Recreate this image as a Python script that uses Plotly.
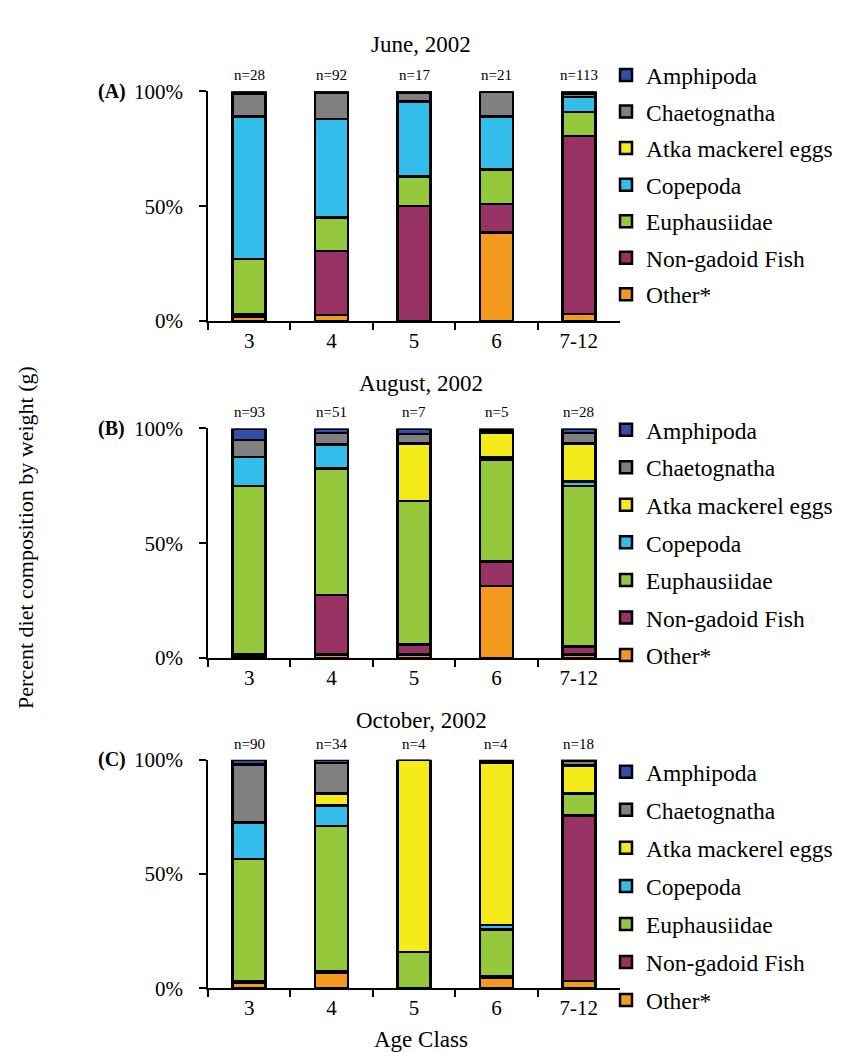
import plotly.graph_objects as go

ages = ["3", "4", "5", "6", "7-12"]
prey = ["Other*", "Non-gadoid Fish", "Euphausiidae", "Copepoda",
        "Atka mackerel eggs", "Chaetognatha", "Amphipoda"]
colors = ["#F39A1E", "#983262", "#96C83C", "#33BDEB", "#F5EB1A", "#808080", "#2F4FA8"]

months = ["June, 2002", "August, 2002", "October, 2002"]
panel_tags = ["(A)", "(B)", "(C)"]

# June (A)
june_other = [2, 2.5, 0, 38.5, 3]
june_fish = [1, 28, 50, 12.5, 77.5]
june_euph = [24, 14.5, 13, 15, 10.5]
june_cope = [62, 43, 32.5, 23, 6.5]
june_atka = [0, 0, 0, 0, 0]
june_chaet = [10, 11.5, 4, 11, 1.5]
june_amph = [1, 0.5, 0.5, 0, 1]
june_n = [28, 92, 17, 21, 113]

# August (B)
aug_other = [0.5, 1.5, 1.5, 31.5, 1.5]
aug_fish = [1, 26, 4.5, 10.5, 3.5]
aug_euph = [73.5, 55, 62.5, 44.5, 70]
aug_cope = [12.5, 10.5, 0, 1, 2]
aug_atka = [0, 0, 25, 10.5, 16.5]
aug_chaet = [7.5, 5, 4, 1, 4.5]
aug_amph = [5, 2, 2.5, 1, 2]
aug_n = [93, 51, 7, 5, 28]

# October (C)
oct_other = [2.5, 6.8, 0, 4.7, 3.3]
oct_fish = [0.5, 0.5, 0, 0.5, 72.4]
oct_euph = [53.5, 63.7, 16, 20.5, 9.6]
oct_cope = [16, 9, 0, 2.1, 0]
oct_atka = [0, 5.3, 84, 71, 12.1]
oct_chaet = [25.5, 13.3, 0, 0.7, 2.2]
oct_amph = [2, 1.4, 0, 0.5, 0.4]
oct_n = [90, 34, 4, 4, 18]

panels = [
    ([june_other, june_fish, june_euph, june_cope, june_atka, june_chaet, june_amph], june_n),
    ([aug_other, aug_fish, aug_euph, aug_cope, aug_atka, aug_chaet, aug_amph], aug_n),
    ([oct_other, oct_fish, oct_euph, oct_cope, oct_atka, oct_chaet, oct_amph], oct_n),
]

W, H = 847, 1052
SERIF = "Liberation Serif"

def px_x(p):
    return p / W

def px_y(p):
    return 1 - p / H

# plot area pixel bounds: (top, bottom)
panel_px = [(73, 308), (418, 653), (757, 991)]
x_left, x_right = 200, 612
legend_tops = [34, 397, 747]
legend_gaps = [3, 4, 4.5]

fig = go.Figure()
for pi, (series, nvals) in enumerate(panels):
    ax = "" if pi == 0 else str(pi + 1)
    leg = "legend" if pi == 0 else f"legend{pi + 1}"
    for si, vals in enumerate(series):
        fig.add_trace(go.Bar(
            x=ages, y=vals, name=prey[si],
            marker=dict(color=colors[si], line=dict(color="black", width=2.5)),
            width=0.4,
            xaxis="x" + ax, yaxis="y" + ax,
            legend=leg, legendgroup=f"p{pi}_{si}", legendrank=100 - si,
            showlegend=True,
        ))
    for ci, n in enumerate(nvals):
        fig.add_annotation(
            x=ci, y=100, xref="x" + ax, yref="y" + ax,
            text=f"n={n}", showarrow=False, yanchor="bottom", yshift=6,
            font=dict(family=SERIF, size=15, color="black"),
        )

layout = dict(
    width=W, height=H,
    margin=dict(l=0, r=0, t=0, b=0),
    paper_bgcolor="white", plot_bgcolor="white",
    barmode="stack", bargap=0.6,
    showlegend=True,
    font=dict(family=SERIF, color="black"),
)

for pi in range(3):
    ax = "" if pi == 0 else str(pi + 1)
    top, bot = panel_px[pi]
    layout["xaxis" + ax] = dict(
        domain=[px_x(x_left), px_x(x_right)], anchor="y" + ax,
        type="category", categoryorder="array", categoryarray=ages,
        range=[-0.5, 4.5], autorange=False,
        showline=True, linecolor="black", linewidth=1.5,
        ticks="outside", tickson="boundaries", ticklen=7, tickwidth=1.5, tickcolor="black",
        tickfont=dict(family=SERIF, size=21, color="black"),
        showgrid=False, zeroline=False,
    )
    layout["yaxis" + ax] = dict(
        domain=[px_y(bot), px_y(top)], anchor="x" + ax,
        range=[0, 100], autorange=False,
        tickvals=[0, 50, 100], ticktext=["0%", "50%", "100%"],
        showline=True, linecolor="black", linewidth=1.5,
        ticks="outside", ticklen=7, tickwidth=1.5, tickcolor="black",
        ticklabelstandoff=12,
        tickfont=dict(family=SERIF, size=21, color="black"),
        showgrid=False, zeroline=False,
    )
    leg = "legend" if pi == 0 else f"legend{pi + 1}"
    layout[leg] = dict(
        x=px_x(598), y=px_y(legend_tops[pi]), xanchor="left", yanchor="top",
        traceorder="grouped", tracegroupgap=legend_gaps[pi],
        font=dict(family=SERIF, size=23.5, color="black"),
        bgcolor="rgba(0,0,0,0)", itemwidth=30,
    )

fig.update_layout(**layout)

# panel titles, tags
title_y = [25, 372, 717]
for pi in range(3):
    fig.add_annotation(
        x=px_x(413), y=px_y(title_y[pi]), xref="paper", yref="paper",
        text=months[pi], showarrow=False, xanchor="center", yanchor="middle",
        font=dict(family=SERIF, size=23, color="black"),
    )
    fig.add_annotation(
        x=px_x(88), y=px_y(panel_px[pi][0]), xref="paper", yref="paper",
        text=f"<b>{panel_tags[pi]}</b>", showarrow=False, xanchor="left", yanchor="middle",
        font=dict(family=SERIF, size=20, color="black"),
    )

fig.add_annotation(
    x=px_x(18), y=px_y(530), xref="paper", yref="paper",
    text="Percent diet composition by weight (g)", showarrow=False, textangle=-90,
    xanchor="center", yanchor="middle",
    font=dict(family=SERIF, size=22, color="black"),
)
fig.add_annotation(
    x=px_x(413), y=px_y(1043), xref="paper", yref="paper",
    text="Age Class", showarrow=False, xanchor="center", yanchor="middle",
    font=dict(family=SERIF, size=23, color="black"),
)

fig.write_html("out.html")
